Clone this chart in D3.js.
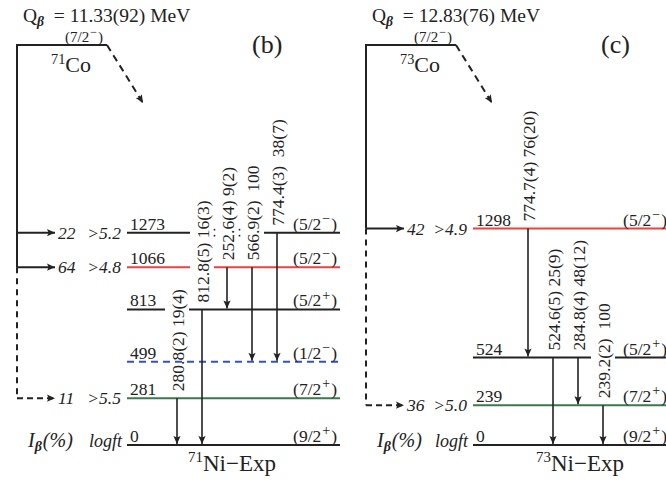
<!DOCTYPE html>
<html><head><meta charset="utf-8">
<script src="https://cdn.jsdelivr.net/npm/d3@7/dist/d3.min.js"></script>
<style>body{margin:0;background:#fff}svg{display:block}</style>
</head><body><svg id="c" width="666" height="480" font-family="'Liberation Serif','DejaVu Serif','Times New Roman',serif"></svg>
<script>
// ---------- DATA ----------
// Panel (b): 71Co -> 71Ni
const qValueB = "11.33(92)";
const parentMassB = "71", parentElemB = "Co", parentSpinB = "(7/2-)";
const levelsB = [0, 281, 499, 813, 1066, 1273];
const spinsB = ["(9/2+)", "(7/2+)", "(1/2-)", "(5/2+)", "(5/2-)", "(5/2-)"];
const gammaEnergyB = ["280.8(2)", "812.8(5)", "252.6(4)", "566.9(2)", "774.4(3)"];
const gammaIntB = ["19(4)", "16(3)", "9(2)", "100", "38(7)"];
const gammaFromB = [281, 813, 1066, 1066, 1273];
const gammaToB = [0, 0, 813, 499, 499];
const feedLevelB = [1273, 1066, 281];
const feedIntB = ["22", "64", "11"];
const feedLogftB = [">5.2", ">4.8", ">5.5"];
const feedTentativeB = [false, false, true];

// Panel (c): 73Co -> 73Ni
const qValueC = "12.83(76)";
const parentMassC = "73", parentElemC = "Co", parentSpinC = "(7/2-)";
const levelsC = [0, 239, 524, 1298];
const spinsC = ["(9/2+)", "(7/2+)", "(5/2+)", "(5/2-)"];
const gammaEnergyC = ["774.7(4)", "524.6(5)", "284.8(4)", "239.2(2)"];
const gammaIntC = ["76(20)", "25(9)", "48(12)", "100"];
const gammaFromC = [1298, 524, 524, 239];
const gammaToC = [524, 0, 239, 0];
const feedLevelC = [1298, 239];
const feedIntC = ["42", "36"];
const feedLogftC = [">4.9", ">5.0"];
const feedTentativeC = [false, true];

// ---------- STYLES / LAYOUT ----------
const colBlack = "#222", colRed = "#ee4040", colGreen = "#3a7a48", colBlue = "#3452c4";
const levelStyleB = [[colBlack, null], [colGreen, null], [colBlue, "7,5"], [colBlack, null], [colRed, null], [colBlack, null]];
const levelStyleC = [[colBlack, null], [colGreen, null], [colBlack, null], [colRed, null]];
const FS = 17.5;

const svg = d3.select("#c");
const y = d3.scaleLinear().domain([0, 1300]).range([445, 228.2]);

const defs = svg.append("defs");
defs.append("marker").attr("id", "ah").attr("viewBox", "0 0 10 10")
  .attr("refX", 10).attr("refY", 5).attr("markerWidth", 9).attr("markerHeight", 8)
  .attr("markerUnits", "userSpaceOnUse").attr("orient", "auto")
  .append("path").attr("d", "M0,0.5 L10,5 L0,9.5 L2,5 Z").attr("fill", colBlack);

function rich(sel, parts, fs) {
  let shift = 0;
  parts.forEach(p => {
    const t = sel.append("tspan").text(p.t);
    let target = 0;
    if (p.sup) { t.attr("font-size", fs * (p.big ? 0.8 : 0.65)); target = -fs * 0.38; }
    if (p.sub) { t.attr("font-size", fs * 0.7); target = fs * 0.22; }
    if (p.bold) t.attr("font-weight", "bold");
    if (p.italic) t.attr("font-style", "italic");
    if (p.dx) t.attr("dx", p.dx);
    if (target - shift !== 0) t.attr("dy", target - shift);
    shift = target;
  });
  return sel;
}
function spinParts(s) {
  const m = s.match(/^\((.*?)([+-])\)$/);
  return [{ t: "(" + m[1] }, { t: m[2] === "-" ? "\u2212" : "+", sup: true, big: true, dx: 1 }, { t: ")", dx: 1 }];
}

function drawPanel(o) {
  const g = svg.append("g").attr("fill", "#222");
  const [px0, px1] = o.parentX;
  const py = 45;
  const [lx0, lx1] = o.levelX;

  rich(g.append("text").attr("x", o.qX).attr("y", 22).attr("font-size", 19.5).style("white-space", "pre"),
    [{ t: "Q" }, { t: "\u03B2", sub: true, bold: true, italic: true }, { t: "  = " + o.q + " MeV" }], 19.5);
  g.append("text").attr("x", o.tagX).attr("y", 53).attr("font-size", 26).text(o.tag);

  g.append("line").attr("x1", px0).attr("x2", px1).attr("y1", py).attr("y2", py)
    .attr("stroke", colBlack).attr("stroke-width", 2);
  rich(g.append("text").attr("x", (px0 + px1) / 2 + 41).attr("y", py - 3).attr("text-anchor", "end")
    .attr("font-size", 15), spinParts(o.parentSpin), 15);
  rich(g.append("text").attr("x", (px0 + px1) / 2 + 9).attr("y", py + 27).attr("text-anchor", "middle")
    .attr("font-size", 22), [{ t: o.parentMass, sup: true }, { t: o.parentElem }], 22);
  g.append("line").attr("x1", px1).attr("y1", py).attr("x2", px1 + 36).attr("y2", py + 58)
    .attr("stroke", colBlack).attr("stroke-width", 2).attr("stroke-dasharray", "7,5")
    .attr("marker-end", "url(#ah)");

  const solidFeeds = o.feedLevel.filter((d, i) => !o.feedTent[i]);
  const lowestSolid = d3.min(solidFeeds);
  const lowestAll = d3.min(o.feedLevel);
  g.append("line").attr("x1", px0).attr("x2", px0).attr("y1", py - 1).attr("y2", y(lowestSolid))
    .attr("stroke", colBlack).attr("stroke-width", 2);
  g.append("line").attr("x1", px0).attr("x2", px0).attr("y1", y(lowestSolid)).attr("y2", y(lowestAll))
    .attr("stroke", colBlack).attr("stroke-width", 2).attr("stroke-dasharray", "6,5");
  o.feedLevel.forEach((lv, i) => {
    const yy = y(lv);
    g.append("line").attr("x1", px0).attr("x2", px0 + 38).attr("y1", yy).attr("y2", yy)
      .attr("stroke", colBlack).attr("stroke-width", 2)
      .attr("stroke-dasharray", o.feedTent[i] ? "6,4" : null).attr("marker-end", "url(#ah)");
    g.append("text").attr("x", px0 + 41).attr("y", yy + 6).attr("font-size", FS)
      .attr("font-style", "italic").text(o.feedInt[i]);
    g.append("text").attr("x", lx0 - 6).attr("y", yy + 6).attr("font-size", FS)
      .attr("font-style", "italic").attr("text-anchor", "end").text(o.feedLogft[i]);
  });
  rich(g.append("text").attr("x", px0 + 11).attr("y", 447).attr("font-size", 20).attr("font-style", "italic"),
    [{ t: "I" }, { t: "\u03B2", sub: true, bold: true }, { t: "(%)", dx: 1 }], 20);
  g.append("text").attr("x", lx0 - 5).attr("y", 447).attr("font-size", 18).attr("font-style", "italic")
    .attr("text-anchor", "end").text("logft");

  const tx = d3.scalePoint().domain(d3.range(o.gE.length)).range(o.transX);
  const labelOff = 7;
  const labels = o.gE.map((e, i) => {
    const txt = e + (o.gI[i] === "100" || o.gI[i] === "38(7)" ? "  " : " ") + o.gI[i];
    const bottom = y(o.gFrom[i]) - labelOff;
    return { i, txt, x: tx(i), bottom };
  });
  const meas = g.append("text").attr("font-size", FS).style("white-space", "pre");
  labels.forEach(L => { meas.text(L.txt); L.top = L.bottom - meas.node().getComputedTextLength(); });
  meas.remove();

  o.levels.forEach((lv, k) => {
    const yy = y(lv);
    const [col, dash] = o.levelStyle[k];
    let gaps = [];
    if (!dash) labels.forEach(L => { if (L.top < yy - 2 && L.bottom > yy + 2) gaps.push([L.x - 12, L.x + 12]); });
    gaps.sort((a, b) => a[0] - b[0]);
    const merged = [];
    gaps.forEach(gp => {
      if (merged.length && gp[0] <= merged[merged.length - 1][1] + 2) merged[merged.length - 1][1] = Math.max(merged[merged.length - 1][1], gp[1]);
      else merged.push(gp.slice());
    });
    let segs = [], cur = lx0;
    merged.forEach(gp => { segs.push([cur, gp[0]]); cur = gp[1]; });
    segs.push([cur, lx1]);
    segs.forEach(s => g.append("line").attr("x1", s[0]).attr("x2", s[1]).attr("y1", yy).attr("y2", yy)
      .attr("stroke", col).attr("stroke-width", 2).attr("stroke-dasharray", dash));
    merged.forEach(gp => {
      const inside = labels.filter(L => L.x > gp[0] && L.x < gp[1]).map(L => L.x);
      for (let j = 0; j + 1 < inside.length; j++) {
        const mx = (inside[j] + inside[j + 1]) / 2;
        [-3, 3].forEach(d => g.append("circle").attr("cx", mx).attr("cy", yy + d).attr("r", 0.9).attr("fill", colBlack));
      }
    });
    g.append("text").attr("x", lx0 + 3).attr("y", yy - 3).attr("font-size", FS).text(lv);
    rich(g.append("text").attr("x", o.spinX).attr("y", yy - 3).attr("font-size", FS).attr("text-anchor", "end"),
      spinParts(o.spins[k]), FS);
  });

  labels.forEach(L => {
    const i = L.i;
    g.append("line").attr("x1", L.x).attr("x2", L.x).attr("y1", y(o.gFrom[i])).attr("y2", y(o.gTo[i]) - 1)
      .attr("stroke", colBlack).attr("stroke-width", 1.6).attr("marker-end", "url(#ah)");
    g.append("text").attr("transform", `translate(${L.x + 0.5},${L.bottom}) rotate(-90)`)
      .attr("dy", "0.35em").attr("font-size", FS).style("white-space", "pre").text(L.txt);
  });

  rich(g.append("text").attr("x", o.daughterX).attr("y", 471).attr("text-anchor", "middle").attr("font-size", 23),
    [{ t: o.parentMass, sup: true }, { t: "Ni\u2212Exp" }], 23);
}

drawPanel({
  q: qValueB, qX: 23, tag: "(b)", tagX: 252, parentX: [17, 107], parentSpin: parentSpinB,
  parentMass: parentMassB, parentElem: parentElemB, levelX: [127, 340], spinX: 337, transX: [177, 277],
  levels: levelsB, spins: spinsB, levelStyle: levelStyleB, gE: gammaEnergyB, gI: gammaIntB,
  gFrom: gammaFromB, gTo: gammaToB, feedLevel: feedLevelB, feedInt: feedIntB, feedLogft: feedLogftB,
  feedTent: feedTentativeB, daughterX: 232
});
drawPanel({
  q: qValueC, qX: 372, tag: "(c)", tagX: 601, parentX: [366, 456], parentSpin: parentSpinC,
  parentMass: parentMassC, parentElem: parentElemC, levelX: [473, 690], spinX: 667, transX: [528, 603],
  levels: levelsC, spins: spinsC, levelStyle: levelStyleC, gE: gammaEnergyC, gI: gammaIntC,
  gFrom: gammaFromC, gTo: gammaToC, feedLevel: feedLevelC, feedInt: feedIntC, feedLogft: feedLogftC,
  feedTent: feedTentativeC, daughterX: 580
});
</script></body></html>
